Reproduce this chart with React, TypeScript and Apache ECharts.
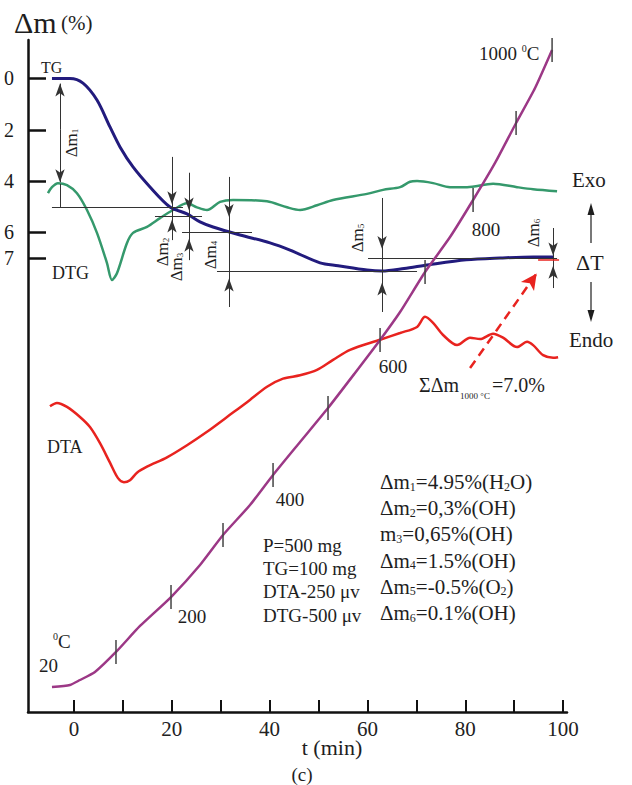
import React, { useEffect, useRef } from "react";
import * as echarts from "echarts";

const SERIF = "'Liberation Serif', 'Times New Roman', Times, serif";

// ---- data ----
// TG: time (min) vs mass loss Δm (%)
const tgCurve: number[][] = [
  [-4.5, 0], [-0.82, 0], [1.84, 0.18], [4.7, 0.84], [7.36, 1.89], [9.41, 2.67],
  [12.07, 3.45], [15.54, 4.23], [19.63, 5.01], [23.11, 5.28], [25.77, 5.59],
  [28.43, 5.79], [33.95, 6.1], [40.08, 6.41], [44.17, 6.69], [50.31, 7.19],
  [54, 7.3], [59.92, 7.47], [62.99, 7.51], [67.5, 7.41], [72.6, 7.26],
  [80.2, 7.07], [87.1, 7.0], [93.9, 6.96], [98.0, 6.96],
];
// DTG: time (min) vs relative signal height (% of frame)
const dtgCurve: number[][] = [
  [-5.32, 77.2], [-4.5, 78.1], [-3.27, 78.7], [-1.43, 78.4], [0.61, 77.2],
  [2.66, 74.7], [4.7, 71.3], [6.75, 66.8], [7.77, 64.3], [8.79, 65.3],
  [10.84, 69.8], [12.07, 71.3], [14.93, 72.2], [17.59, 73.5], [20.25, 74.7],
  [23.11, 75.7], [25.15, 75.1], [27.2, 74.7], [29.86, 75.9], [32.52, 76.2],
  [39.47, 76.0], [43.56, 75.1], [46.22, 74.7], [49.69, 75.4], [52.97, 76.2],
  [59.92, 77.1], [63.19, 77.7], [66.67, 78.1], [68.71, 78.9], [70.14, 79.0],
  [73.42, 78.7], [76.89, 78.1], [80.37, 78.1], [85.69, 78.6], [90.59, 78.1],
  [93.87, 77.8], [98.77, 77.5],
];
// DTA: time (min) vs relative signal height (% of frame)
const dtaCurve: number[][] = [
  [-4.91, 45.5], [-3.48, 46.0], [-1.43, 45.4], [1.23, 43.9], [3.27, 42.4],
  [5.32, 40.0], [7.36, 37.1], [9.0, 34.8], [10.22, 34.2], [11.45, 34.5],
  [12.88, 35.6], [14.93, 36.5], [19.02, 37.9], [23.11, 39.7], [27.2, 41.7],
  [31.29, 43.9], [35.38, 46.1], [39.47, 48.4], [42.74, 49.6], [46.22, 50.1],
  [49.69, 50.9], [52.97, 52.4], [56.44, 53.9], [62.58, 55.4], [66.67, 56.4],
  [70.14, 57.3], [71.78, 58.8], [73.42, 57.9], [75.46, 56.1], [78.32, 54.6],
  [80.98, 55.7], [83.03, 55.5], [85.69, 56.3], [87.73, 55.7], [90.59, 54.3],
  [92.64, 55.1], [93.87, 54.6], [95.91, 53.1], [97.96, 52.7], [98.98, 52.8],
];
// Furnace temperature curve: time (min) vs relative height (% of frame)
const tempCurve: number[][] = [
  [-4.5, 3.72], [-0.82, 4.02], [1.23, 4.76], [4.29, 5.95], [8.59, 8.93],
  [13.5, 12.8], [19.84, 17.11], [25.77, 21.88], [30.47, 26.34], [35.99, 30.8],
  [40.7, 35.27], [46.22, 40.18], [51.94, 45.24], [57.46, 50.45], [62.58, 55.36],
  [66.67, 59.52], [71.78, 65.48], [76.89, 70.68], [81.6, 76.19], [86.09, 81.7],
  [90.39, 87.65], [94.27, 92.86], [97.75, 98.51],
];
// temperature marks on that curve (°C) and where they sit
const tempMarkValues = [100, 200, 300, 400, 500, 600, 700, 800, 900, 1000];
const tempMarkPoints: number[][] = [
  [8.59, 8.93], [19.84, 17.11], [30.47, 26.34], [40.7, 35.27], [51.94, 45.24],
  [62.58, 55.36], [71.78, 65.48], [81.6, 76.19], [90.39, 87.65], [97.75, 98.51],
];
const labelledTemps = [200, 400, 600, 800, 1000];

const xLabelValues = [0, 20, 40, 60, 80, 100];
const xMinorValues = [10, 30, 50, 70, 90];
const yLabelValues = [0, 2, 4, 6, 7];

// Δm construction lines (t, Δm)
const guideSegments: number[][][] = [
  [[-4.5, 5.01], [22.29, 5.01]],
  [[-2.86, 4.11], [-2.86, 5.01]],
  [[16.56, 5.36], [26.18, 5.36]],
  [[22.09, 5.98], [36.4, 5.98]],
  [[29.24, 7.5], [70.14, 7.5]],
  [[60.12, 7.0], [98.77, 7.0]],
  [[20.04, 3.06], [20.04, 6.3]],
  [[23.52, 3.68], [23.52, 7.08]],
  [[31.7, 3.84], [31.7, 8.91]],
  [[62.99, 4.66], [62.99, 9.1]],
  [[97.96, 5.83], [97.96, 8.17]],
];
// arrows: from, to (arrowhead at "to")
const arrowSegments: number[][][] = [
  [[-2.86, 2.0], [-2.86, 0.2]],
  [[-2.86, 2.0], [-2.86, 4.05]],
  [[20.04, 3.06], [20.04, 4.9]],
  [[20.04, 6.3], [20.04, 5.5]],
  [[23.52, 3.68], [23.52, 5.15]],
  [[23.52, 7.08], [23.52, 6.25]],
  [[31.7, 3.84], [31.7, 5.4]],
  [[31.7, 8.91], [31.7, 7.8]],
  [[62.99, 4.66], [62.99, 6.65]],
  [[62.99, 9.1], [62.99, 7.95]],
  [[97.96, 5.83], [97.96, 6.9]],
  [[97.96, 8.17], [97.96, 7.3]],
];
const finalLossMark: number[][] = [[94.89, 7.08], [99.18, 7.08]];
const totalArrow: number[][] = [[80.98, 11.29], [94.6, 7.6]];

const stepLabelIndex = ["1", "2", "3", "4", "5", "6"];
const lossPrefix = ["Δm", "Δm", "m", "Δm", "Δm", "Δm"];
const lossValue = ["4.95", "0,3", "0,65", "1.5", "-0.5", "0.1"];
const lossSpecies = ["H2O", "OH", "OH", "OH", "O2", "OH"];
const paramLines = ["P=500 mg", "TG=100 mg", "DTA-250 μv", "DTG-500 μv"];
const totalLoss = "7.0";

// ---- styling ----
const NAVY = "#221b7d";
const GREEN = "#35996c";
const RED = "#e8231f";
const PURPLE = "#9c3886";
const INK = "#1e1e1e";

const X_MIN = -9.4;
const X_MAX = 100.8;

function txt(x: number, y: number, text: string, size: number, extra: any = {}) {
  return {
    type: "text",
    x,
    y,
    silent: true,
    ...extra,
    style: {
      text,
      fontSize: size,
      fontFamily: SERIF,
      fill: INK,
      align: "left",
      verticalAlign: "middle",
      ...(extra.style || {}),
    },
  };
}

function richSub(size: number) {
  return {
    a: { fontSize: size, fontFamily: SERIF, fill: INK, color: INK },
    s: { fontSize: Math.round(size * 0.55), fontFamily: SERIF, fill: INK, color: INK, verticalAlign: "bottom", padding: [6, 0, 0, 0] },
    p: { fontSize: Math.round(size * 0.55), fontFamily: SERIF, fill: INK, color: INK, verticalAlign: "top", padding: [0, 0, 6, 0] },
  };
}

export default function App() {
  const ref = useRef<HTMLDivElement>(null);

  useEffect(() => {
    document.body.style.margin = "0";
    if (!ref.current) return;
    const chart = echarts.init(ref.current, undefined, { renderer: "svg" });

    const labelOffsets: Record<number, any> = {
      200: { position: "bottom", distance: 0, offset: [21, -2] },
      400: { position: "bottom", distance: 0, offset: [17, 3] },
      600: { position: "bottom", distance: 0, offset: [13, 5] },
      800: { position: "bottom", distance: 0, offset: [13, 8] },
      1000: { position: "left", distance: 12, offset: [0, 3] },
    };

    const markData: any[] = [];
    guideSegments.forEach((s) => {
      markData.push([
        { coord: s[0], symbol: "none" },
        { coord: s[1], symbol: "none" },
      ]);
    });
    arrowSegments.forEach((s) => {
      markData.push([
        { coord: s[0], symbol: "none" },
        { coord: s[1], symbol: "arrow", symbolSize: [7, 13] },
      ]);
    });
    markData.push([
      { coord: finalLossMark[0], symbol: "none", lineStyle: { color: RED, width: 1.5, type: "solid" } },
      { coord: finalLossMark[1], symbol: "none" },
    ]);
    markData.push([
      { coord: totalArrow[0], symbol: "none", lineStyle: { color: RED, width: 2.5, type: [9, 6] } },
      { coord: totalArrow[1], symbol: "arrow", symbolSize: [12, 16] },
    ]);

    const markItems = tempMarkPoints.map((p, i) => {
      const T = tempMarkValues[i];
      const item: any = { value: p, name: String(T) };
      if (labelledTemps.includes(T)) {
        item.label = {
          show: true,
          formatter: T === 1000 ? "{a|" + T + " }{p|0}{a|C}" : String(T),
          fontSize: 19,
          fontFamily: SERIF,
          color: INK,
          opacity: 1,
          rich: richSub(19),
          ...labelOffsets[T],
        };
      }
      return item;
    });

    const lossTexts = lossPrefix.map((pre, i) => {
      const species = lossSpecies[i].replace(/(\d)/g, "}{s|$1}{a|");
      return "{a|" + pre + "}{s|" + stepLabelIndex[i] + "}{a|=" + lossValue[i] + "%(" + species + ")}";
    });

    const graphic: any[] = [
      txt(14, 22, "Δm", 30),
      txt(61, 23, "(%)", 21),
      txt(41, 67, "TG", 16),
      txt(52, 273, "DTG", 18),
      txt(47, 447, "DTA", 18),
      {
        type: "text", x: 53, y: 641, silent: true,
        style: { text: "{p|0}{a|C}", rich: richSub(19), align: "left", verticalAlign: "middle" },
      },
      txt(39, 665, "20", 19),
      txt(572, 180, "Exo", 21),
      txt(576, 262, "ΔT", 22),
      txt(569, 340, "Endo", 21),
      txt(332, 747, "t (min)", 22, { style: { align: "center" } }),
      txt(302, 774, "(c)", 19, { style: { align: "center" } }),
      {
        type: "text", x: 419, y: 385, silent: true,
        style: {
          text: "{a|ΣΔm}{b|1000 °C}{a|=" + totalLoss + "%}",
          rich: {
            a: { fontSize: 20, fontFamily: SERIF, fill: INK },
            b: { fontSize: 9, fontFamily: SERIF, fill: INK, verticalAlign: "bottom", padding: [22, 2, 0, 1] },
          },
          align: "left", verticalAlign: "middle",
        },
      },
      // Exo / Endo arrows
      { type: "line", silent: true, shape: { x1: 591, y1: 243, x2: 591, y2: 212 }, style: { stroke: INK, lineWidth: 1.2 } },
      { type: "polygon", silent: true, shape: { points: [[591, 203], [587.5, 215], [594.5, 215]] }, style: { fill: INK } },
      { type: "line", silent: true, shape: { x1: 591, y1: 282, x2: 591, y2: 313 }, style: { stroke: INK, lineWidth: 1.2 } },
      { type: "polygon", silent: true, shape: { points: [[591, 322], [587.5, 310], [594.5, 310]] }, style: { fill: INK } },
    ];

    const stepLabelPos = [
      [71, 143], [162, 252], [176, 267], [210, 255], [357, 238], [533, 233],
    ];
    stepLabelPos.forEach((p, i) => {
      graphic.push({
        type: "text", x: p[0], y: p[1], rotation: Math.PI / 2, silent: true,
        style: {
          text: "{a|Δm}{s|" + stepLabelIndex[i] + "}",
          rich: richSub(17),
          align: "center", verticalAlign: "middle",
        },
      });
    });

    lossTexts.forEach((t, i) => {
      graphic.push({
        type: "text", x: 380, y: 482 + i * 26.2, silent: true,
        style: { text: t, rich: richSub(21), align: "left", verticalAlign: "middle" },
      });
    });
    paramLines.forEach((t, i) => {
      graphic.push(txt(263, 545 + i * 23.4, t, 19));
    });

    const curve = (name: string, data: number[][], color: string, width: number, yAxisIndex: number, z: number, smooth: number) => ({
      name, type: "line", yAxisIndex, data, smooth,
      symbol: "none", lineStyle: { color, width }, z,
    });

    const option: any = {
      animation: false,
      backgroundColor: "#ffffff",
      grid: { left: 28, top: 40, width: 539, height: 672, containLabel: false },
      xAxis: {
        type: "value",
        min: X_MIN,
        max: X_MAX,
        axisLine: { show: true, onZero: false, lineStyle: { color: "#111", width: 2.5 } },
        axisTick: {
          show: true, inside: true, length: 12,
          customValues: [...xLabelValues, ...xMinorValues],
          lineStyle: { color: "#111", width: 2 },
        },
        axisLabel: {
          show: true, customValues: xLabelValues, fontSize: 21, fontFamily: SERIF,
          color: "#222", margin: 6,
        },
        splitLine: { show: false },
      },
      yAxis: [
        {
          type: "value",
          min: -1.5,
          max: 24.7,
          inverse: true,
          axisLine: { show: true, onZero: false, lineStyle: { color: "#111", width: 2.5 } },
          axisTick: {
            show: true, inside: true, length: 18, customValues: yLabelValues,
            lineStyle: { color: "#111", width: 2.5 },
          },
          axisLabel: {
            show: true, customValues: yLabelValues, fontSize: 20, fontFamily: SERIF,
            color: "#1a1a1a", margin: 14,
          },
          splitLine: { show: false },
        },
        { type: "value", min: 0, max: 100, show: false },
      ],
      series: [
        curve("DTA", dtaCurve, RED, 2.5, 1, 3, 0.3),
        curve("DTG", dtgCurve, GREEN, 2.5, 1, 3, 0.3),
        {
          ...curve("TG", tgCurve, NAVY, 3, 0, 4, 0.3),
          markLine: {
            silent: true,
            animation: false,
            symbol: "none",
            label: { show: false },
            lineStyle: { color: "#333", width: 1, type: "solid" },
            data: markData,
          },
        },
        curve("T", tempCurve, PURPLE, 2.5, 1, 5, 0.2),
        {
          name: "T marks", type: "scatter", yAxisIndex: 1, data: markItems,
          symbol: "rect", symbolSize: [1.5, 24], itemStyle: { color: "#444", opacity: 1 }, z: 6,
          label: { show: false },
        },
      ],
      graphic,
    };

    chart.setOption(option);
    return () => chart.dispose();
  }, []);

  return <div ref={ref} style={{ width: 632, height: 785 }} />;
}
